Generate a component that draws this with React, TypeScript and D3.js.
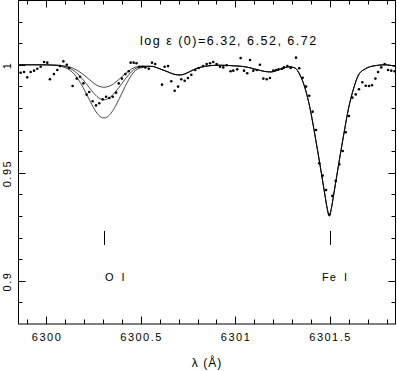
import React, {useRef, useEffect} from 'react';
import {select, scaleLinear, line, curveMonotoneX, range} from 'd3';

// observed spectrum (wavelength in A, normalised flux)
const obsWave = [
  6299.864, 6299.882, 6299.899, 6299.917, 6299.935, 6299.952, 6299.970, 6299.988, 6300.005, 6300.019,
  6300.040, 6300.058, 6300.072, 6300.090, 6300.108, 6300.121, 6300.139, 6300.161, 6300.178, 6300.196,
  6300.213, 6300.227, 6300.245, 6300.263, 6300.280, 6300.298, 6300.316, 6300.333, 6300.351, 6300.369,
  6300.383, 6300.400, 6300.418, 6300.436, 6300.446, 6300.462, 6300.477, 6300.492, 6300.508, 6300.524,
  6300.542, 6300.559, 6300.576, 6300.612, 6300.626, 6300.644, 6300.661, 6300.679, 6300.697, 6300.714,
  6300.732, 6300.749, 6300.767, 6300.788, 6300.806, 6300.830, 6300.848, 6300.866, 6300.883, 6300.901,
  6300.919, 6300.936, 6300.954, 6300.975, 6300.989, 6301.010, 6301.028, 6301.046, 6301.063, 6301.078,
  6301.095, 6301.113, 6301.130, 6301.148, 6301.166, 6301.183, 6301.201, 6301.215, 6301.229, 6301.247,
  6301.257, 6301.275, 6301.293, 6301.321, 6301.338, 6301.356, 6301.374, 6301.391, 6301.409, 6301.427,
  6301.444, 6301.462, 6301.480, 6301.497, 6301.513, 6301.531, 6301.550, 6301.568, 6301.584, 6301.601,
  6301.619, 6301.637, 6301.654, 6301.672, 6301.690, 6301.707, 6301.723, 6301.741, 6301.755, 6301.772,
  6301.790, 6301.808, 6301.825, 6301.843
];
const obsFlux = [
  0.9963, 0.9967, 0.9942, 0.9967, 0.9973, 0.9982, 0.9991, 1.0013, 1.0010, 0.9933,
  0.9957, 0.9976, 0.9994, 1.0016, 1.0000, 0.9985, 0.9902, 0.9936, 0.9945, 0.9914,
  0.9862, 0.9874, 0.9831, 0.9812, 0.9822, 0.9840, 0.9852, 0.9846, 0.9852, 0.9871,
  0.9914, 0.9936, 0.9957, 0.9970, 1.0010, 1.0010, 1.0007, 0.9991, 0.9991, 0.9988,
  0.9982, 1.0010, 1.0004, 0.9908, 0.9991, 0.9994, 0.9924, 0.9880, 0.9899, 0.9933,
  0.9926, 0.9939, 0.9954, 0.9976, 0.9985, 0.9994, 1.0004, 1.0007, 1.0013, 1.0004,
  0.9991, 0.9988, 0.9998, 0.9970, 0.9973, 0.9979, 1.0031, 0.9973, 0.9961, 1.0022,
  0.9973, 0.9976, 1.0000, 0.9936, 0.9933, 0.9939, 0.9973, 0.9976, 0.9979, 0.9982,
  0.9988, 0.9994, 0.9985, 1.0033, 0.9984, 0.9940, 0.9899, 0.9857, 0.9783, 0.9698,
  0.9544, 0.9487, 0.9420, 0.9308, 0.9393, 0.9462, 0.9539, 0.9601, 0.9688, 0.9763,
  0.9848, 0.9863, 0.9887, 0.9919, 0.9903, 0.9902, 0.9905, 0.9936, 0.9967, 0.9988,
  1.0004, 0.9976, 0.9973, 0.9970
];

// synthetic spectra: shared part left of the O line
const synWaveLeft = [6299.850, 6299.966];
const synFluxLeft = [1.0, 1.0];

// around [O I], one curve per oxygen abundance
const synWaveO = [
  6300.051, 6300.093, 6300.136, 6300.178, 6300.210, 6300.242, 6300.268, 6300.289, 6300.305,
  6300.321, 6300.342, 6300.369, 6300.400, 6300.432, 6300.474, 6300.517, 6300.559
];
const synFluxO632 = [
  0.9999, 0.9995, 0.9986, 0.9966, 0.9945, 0.9921, 0.9905, 0.9898, 0.9896,
  0.9898, 0.9905, 0.9921, 0.9945, 0.9968, 0.9990, 0.9994, 0.9993
];
const synFluxO652 = [
  0.9998, 0.9993, 0.9978, 0.9947, 0.9914, 0.9878, 0.9853, 0.9841, 0.9838,
  0.9841, 0.9853, 0.9878, 0.9914, 0.9950, 0.9984, 0.9993, 0.9993
];
const synFluxO672 = [
  0.9997, 0.9989, 0.9967, 0.9920, 0.9869, 0.9814, 0.9776, 0.9758, 0.9754,
  0.9758, 0.9776, 0.9814, 0.9869, 0.9925, 0.9976, 0.9989, 0.9992
];

// shared part right of the O line, incl. Fe I 6301.5
const synWaveRight = [
  6300.601, 6300.644, 6300.681, 6300.707, 6300.739, 6300.776, 6300.813, 6300.866, 6300.919, 6300.998,
  6301.051, 6301.104, 6301.157, 6301.189, 6301.220, 6301.252, 6301.284, 6301.316, 6301.342, 6301.369,
  6301.395, 6301.421, 6301.448, 6301.474, 6301.486, 6301.497, 6301.508, 6301.520, 6301.546, 6301.573,
  6301.599, 6301.626, 6301.652, 6301.691, 6301.739, 6301.792, 6301.850
];
const synFluxRight = [
  0.9981, 0.9967, 0.9955, 0.9953, 0.9960, 0.9976, 0.9988, 0.9996, 0.9998, 0.9995,
  0.9991, 0.9980, 0.9969, 0.9967, 0.9974, 0.9984, 0.9991, 0.9985, 0.9953, 0.9891,
  0.9799, 0.9675, 0.9536, 0.9397, 0.9335, 0.9300, 0.9335, 0.9397, 0.9536, 0.9675,
  0.9799, 0.9891, 0.9953, 0.9983, 0.9996, 1.0000, 0.9992
];

const abundances = ['6.32', '6.52', '6.72'];
const lineWave = [6300.304, 6301.500];
const lineNames = ['O I', 'Fe I'];
const xTickValues = [6300, 6300.5, 6301, 6301.5];
const xTickLabels = ['6300', '6300.5', '6301', '6301.5'];
const yTickValues = [0.9, 0.95, 1];
const yTickLabels = ['0.9', '0.95', '1'];

const W = 397;
const H = 371;
const FONT = '"Liberation Sans", Arial, Helvetica, sans-serif';

const Chart = () => {
  const svgRef = useRef<SVGSVGElement>(null);

  const buildChart = () => {
    const svg = select(svgRef.current);
    svg.selectAll('*').remove();

    const left = 18, right = 396, top = 0, bottom = 324;
    const x = scaleLinear().domain([6299.85, 6301.85]).range([left, right]);
    const y = scaleLinear().domain([0.88, 1.03]).range([bottom, top]);

    // frame
    svg.append('rect')
      .attr('x', left + 0.5).attr('y', top + 0.5)
      .attr('width', right - left - 1).attr('height', bottom - top - 0.5)
      .attr('fill', 'none').attr('stroke', '#000').attr('stroke-width', 1);

    // ticks on all four sides, pointing inward
    const xMinor = range(6299.9, 6301.85, 0.1);
    const isMajorX = (v: number) => Math.abs(v * 2 - Math.round(v * 2)) < 1e-6;
    const ticks = svg.append('g').attr('stroke', '#000').attr('stroke-width', 1);
    xMinor.forEach(v => {
      const len = isMajorX(v) ? 7.5 : 4.5;
      const px = Math.round(x(v)) + 0.5;
      ticks.append('line').attr('x1', px).attr('x2', px).attr('y1', bottom).attr('y2', bottom - len);
      ticks.append('line').attr('x1', px).attr('x2', px).attr('y1', top).attr('y2', top + len);
    });
    const yMinor = range(0.89, 1.025, 0.01);
    const isMajorY = (v: number) => Math.abs(v * 20 - Math.round(v * 20)) < 1e-6;
    yMinor.forEach(v => {
      const len = isMajorY(v) ? 7.5 : 4.5;
      const py = Math.round(y(v)) + 0.5;
      ticks.append('line').attr('x1', left).attr('x2', left + len).attr('y1', py).attr('y2', py);
      ticks.append('line').attr('x1', right).attr('x2', right - len).attr('y1', py).attr('y2', py);
    });

    // tick labels
    svg.append('g')
      .attr('font-family', FONT).attr('font-size', 11).attr('letter-spacing', 1.5)
      .attr('text-anchor', 'middle').attr('fill', '#000')
      .selectAll('text')
      .data(xTickValues)
      .join('text')
      .attr('x', d => x(d) + 0.75)
      .attr('y', 341)
      .text((d, i) => xTickLabels[i]);

    svg.append('g')
      .attr('font-family', FONT).attr('font-size', 11).attr('letter-spacing', 1.5)
      .attr('text-anchor', 'middle').attr('fill', '#000')
      .selectAll('text')
      .data(yTickValues)
      .join('text')
      .attr('transform', d => `translate(10.5,${y(d) + 0.75}) rotate(-90)`)
      .text((d, i) => yTickLabels[i]);

    // axis title
    svg.append('text')
      .attr('x', 207).attr('y', 367)
      .attr('font-family', FONT).attr('font-size', 12).attr('letter-spacing', 1)
      .attr('text-anchor', 'middle')
      .text('λ (Å)');

    // synthetic spectra
    const synWave = [...synWaveLeft, ...synWaveO, ...synWaveRight];
    const synSets = [synFluxO632, synFluxO652, synFluxO672].map(o =>
      synWave.map((w, i) => [w, [...synFluxLeft, ...o, ...synFluxRight][i]]));
    const synLine = line<number[]>()
      .x(d => x(d[0]))
      .y(d => y(d[1]))
      .curve(curveMonotoneX);
    svg.selectAll('.syn')
      .data(synSets)
      .join('path')
      .attr('class', 'syn')
      .attr('d', synLine)
      .attr('fill', 'none')
      .attr('stroke', '#000')
      .attr('stroke-opacity', 0.7)
      .attr('stroke-width', 1);

    // observed points
    svg.append('g')
      .selectAll('circle')
      .data(obsWave)
      .join('circle')
      .attr('cx', d => x(d))
      .attr('cy', (d, i) => y(obsFlux[i]))
      .attr('r', 1.3)
      .attr('fill', '#000');

    // line identifications
    const ids = svg.append('g');
    lineWave.forEach((w, i) => {
      const px = Math.round(x(w)) + 0.5;
      ids.append('line')
        .attr('x1', px).attr('x2', px)
        .attr('y1', y(0.9231)).attr('y2', y(0.9166))
        .attr('stroke', '#000').attr('stroke-width', 1);
      ids.append('text')
        .attr('x', i === 0 ? px + 0.5 : px - 8.5)
        .attr('y', y(0.9))
        .attr('font-family', FONT).attr('font-size', 11)
        .attr('letter-spacing', 1).attr('word-spacing', 3)
        .attr('fill', '#000')
        .text(lineNames[i]);
    });

    // abundance annotation
    svg.append('text')
      .attr('x', 140).attr('y', 45)
      .attr('font-family', FONT).attr('font-size', 12.5).attr('letter-spacing', 1.5)
      .attr('fill', '#000')
      .text(`log ε (0)=${abundances.join(', ')}`);
  };

  useEffect(() => {
    buildChart();
    //eslint-disable-next-line
  }, []);

  return (
    <svg ref={svgRef} width={W} height={H}
      style={{position: 'absolute', left: 0, top: 0, background: '#fff'}} />
  );
};

export default function App() {
  return <Chart />;
}
